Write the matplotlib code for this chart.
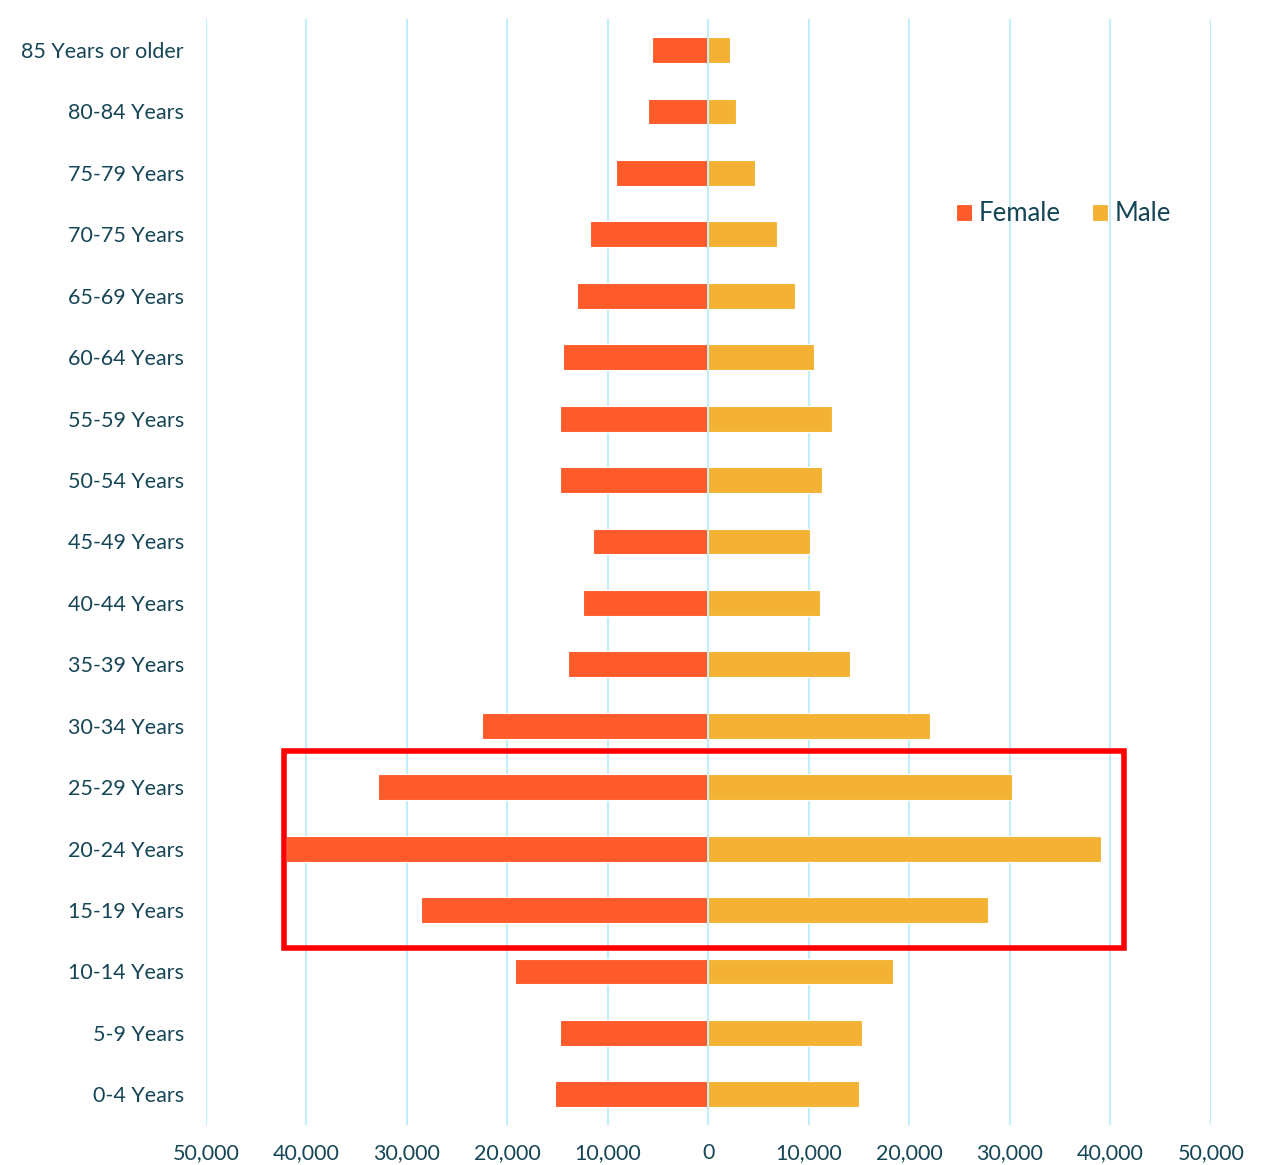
import matplotlib
matplotlib.use("Agg")
import matplotlib.pyplot as plt
from matplotlib.patches import Rectangle
from matplotlib.ticker import FuncFormatter

categories = ["0-4 Years", "5-9 Years", "10-14 Years", "15-19 Years", "20-24 Years",
              "25-29 Years", "30-34 Years", "35-39 Years", "40-44 Years", "45-49 Years",
              "50-54 Years", "55-59 Years", "60-64 Years", "65-69 Years", "70-75 Years",
              "75-79 Years", "80-84 Years", "85 Years or older"]
female = [15300, 14800, 19300, 28600, 42000, 32900, 22500, 14000, 12500, 11500,
          14800, 14800, 14450, 13100, 11750, 9250, 6050, 5650]
male = [14950, 15250, 18400, 27850, 39100, 30250, 22000, 14100, 11050, 10100,
        11250, 12300, 10500, 8650, 6800, 4600, 2700, 2100]
xticks = [-50000, -40000, -30000, -20000, -10000, 0, 10000, 20000, 30000, 40000, 50000]
highlight_x = (-42250, 41300)
highlight_y = (2.38, 5.59)

text_color = "#164656"
female_color = "#FF5A2A"
male_color = "#F3B233"
grid_color = "#C2EEFA"

plt.rcParams['font.family'] = ['Lato', 'DejaVu Sans']

fig = plt.figure(figsize=(12.63, 11.65), dpi=100)
ax = fig.add_axes([0.1631, 0.0343, 0.7957, 0.9491])

y = list(range(len(categories)))
ax.barh(y, [-v for v in female], height=0.42, color=female_color, edgecolor="white",
        linewidth=0.8, label="Female", zorder=3)
ax.barh(y, male, height=0.42, color=male_color, edgecolor="white",
        linewidth=0.8, label="Male", zorder=3)
ax.axvline(0, color=grid_color, lw=1.4, zorder=4)

ax.set_xlim(-50000, 50000)
ax.set_ylim(-0.5, len(categories) - 0.5)
ax.set_xticks(xticks)
ax.xaxis.set_major_formatter(FuncFormatter(lambda v, p: f"{abs(int(v)):,}"))
ax.set_yticks(y)
ax.set_yticklabels(categories)
ax.grid(axis="x", color=grid_color, lw=1.5, zorder=0)
ax.set_axisbelow(True)
for s in ax.spines.values():
    s.set_visible(False)
ax.tick_params(axis="both", length=0, colors=text_color, labelsize=15.5)
ax.tick_params(axis="x", pad=13)
ax.tick_params(axis="y", pad=16)

rect = Rectangle((highlight_x[0], highlight_y[0]), highlight_x[1] - highlight_x[0],
                 highlight_y[1] - highlight_y[0], fill=False, edgecolor="#FF0000",
                 lw=4, zorder=5, clip_on=False)
ax.add_patch(rect)

leg = ax.legend(loc="center left", bbox_to_anchor=(0.723, 0.824), ncol=2, frameon=False,
                fontsize=18.5, handlelength=0.65, handleheight=0.65, handletextpad=0.25,
                columnspacing=1.2)
for t in leg.get_texts():
    t.set_color(text_color)

fig.savefig("out.png", dpi=100, facecolor="white")
